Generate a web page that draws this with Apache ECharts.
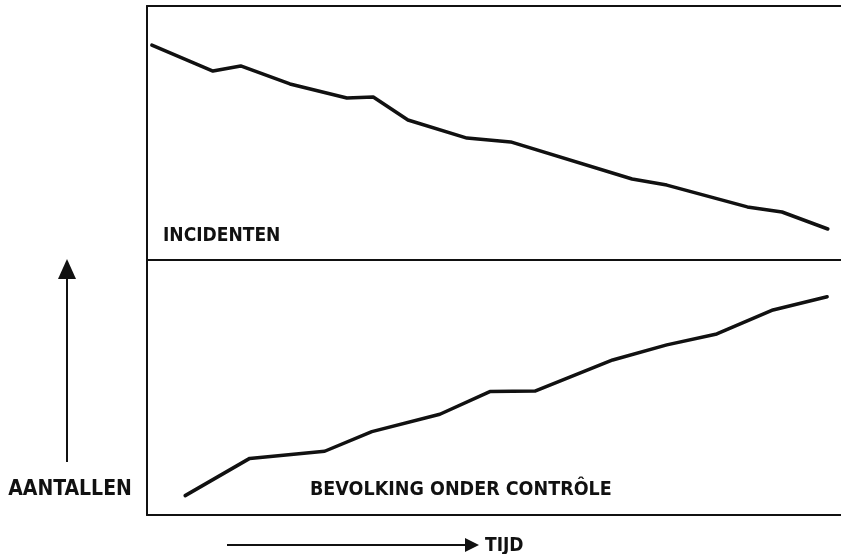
<!DOCTYPE html>
<html>
<head>
<meta charset="utf-8">
<script src="https://cdn.jsdelivr.net/npm/echarts@6/dist/echarts.min.js"></script>
<style>
  html, body { margin: 0; padding: 0; background: #fff; }
  #chart { width: 841px; height: 554px; }
</style>
</head>
<body>
<div id="chart"></div>
<script>
// tijd (0-100 across the frame) and relative counts
var timeTop = [0.7, 9.5, 13.5, 20.6, 28.8, 32.6, 37.6, 46.1, 52.4, 69.9, 74.9, 86.5, 91.5, 98.1];
var incidenten = [84.6, 74.4, 76.4, 69.3, 63.8, 64.2, 55.1, 48.0, 46.5, 31.9, 29.5, 20.9, 18.9, 12.2];

var timeBottom = [5.5, 14.8, 25.6, 32.4, 42.2, 49.4, 55.9, 67.1, 74.9, 82.1, 90.2, 98.0];
var bevolking = [7.6, 22.2, 25.0, 32.7, 39.5, 48.4, 48.6, 60.8, 66.7, 71.0, 80.4, 85.6];

var labelTop = 'INCIDENTEN';
var labelBottom = 'BEVOLKING ONDER CONTRÔLE';
var labelY = 'AANTALLEN';
var labelX = 'TIJD';

function zip(xs, ys) {
  return xs.map(function (x, i) { return [x, ys[i]]; });
}

var ink = '#111';
var family = '"DejaVu Sans Condensed", "DejaVu Sans", sans-serif';

var myChart = echarts.init(document.getElementById('chart'));

// axes only draw the frame lines, no ticks or labels
function frameAxis(type, gridIndex, position) {
  return {
    type: 'value',
    gridIndex: gridIndex,
    position: position,
    min: 0,
    max: 100,
    axisLine: { show: true, onZero: false, lineStyle: { color: ink, width: 2 } },
    axisTick: { show: false },
    axisLabel: { show: false },
    splitLine: { show: false }
  };
}

// the frame has no right side in the drawing
var option = {
  backgroundColor: '#fff',
  animation: false,
  grid: [
    { left: 147, top: 6, right: 0, height: 254 },
    { left: 147, top: 260, right: 0, height: 255 }
  ],
  xAxis: [
    frameAxis('x', 0, 'top'),
    frameAxis('x', 1, 'top'),
    frameAxis('x', 1, 'bottom')
  ],
  yAxis: [
    frameAxis('y', 0, 'left'),
    frameAxis('y', 1, 'left')
  ],
  series: [
    {
      name: labelTop,
      type: 'line',
      xAxisIndex: 0,
      yAxisIndex: 0,
      data: zip(timeTop, incidenten),
      showSymbol: false,
      lineStyle: { color: ink, width: 3.5, cap: 'round', join: 'round' }
    },
    {
      name: labelBottom,
      type: 'line',
      xAxisIndex: 1,
      yAxisIndex: 1,
      data: zip(timeBottom, bevolking),
      showSymbol: false,
      lineStyle: { color: ink, width: 3.5, cap: 'round', join: 'round' }
    }
  ],
  graphic: [
    { type: 'text', x: 163, y: 236, style: { text: labelTop, font: 'bold 19px ' + family, fill: ink, textAlign: 'left', textVerticalAlign: 'middle' } },
    { type: 'text', x: 310, y: 490, style: { text: labelBottom, font: 'bold 19.5px ' + family, fill: ink, textAlign: 'left', textVerticalAlign: 'middle' } },
    { type: 'text', x: 70, y: 490, style: { text: labelY, font: 'bold 21px ' + family, fill: ink, textAlign: 'center', textVerticalAlign: 'middle' } },
    { type: 'text', x: 485, y: 546, style: { text: labelX, font: 'bold 19px ' + family, fill: ink, textAlign: 'left', textVerticalAlign: 'middle' } },
    // arrow up (aantallen)
    { type: 'line', shape: { x1: 67, y1: 462, x2: 67, y2: 268 }, style: { stroke: ink, lineWidth: 2 } },
    { type: 'polygon', shape: { points: [[67, 259], [58, 279], [76, 279]] }, style: { fill: ink } },
    // arrow right (tijd)
    { type: 'line', shape: { x1: 227, y1: 545, x2: 467, y2: 545 }, style: { stroke: ink, lineWidth: 2 } },
    { type: 'polygon', shape: { points: [[479, 545], [465, 538], [465, 552]] }, style: { fill: ink } }
  ]
};

myChart.setOption(option);
</script>
</body>
</html>
